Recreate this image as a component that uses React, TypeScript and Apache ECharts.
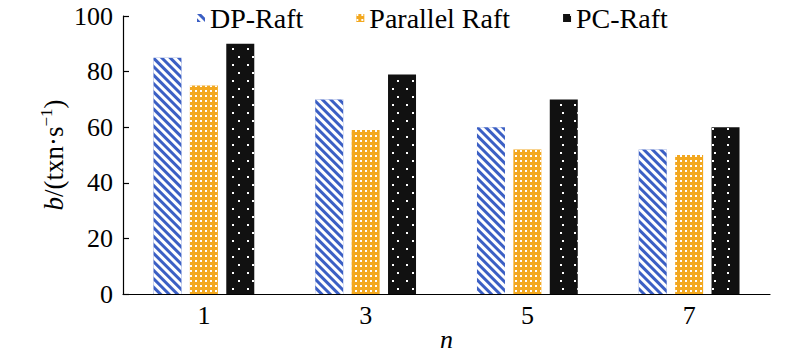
import React, { useEffect, useRef } from "react";
import * as echarts from "echarts";

const categories = ["1", "3", "5", "7"];
const dpRaft = [85, 70, 60, 52];
const parallelRaft = [75, 59, 52, 50];
const pcRaft = [90, 79, 70, 60];
const seriesNames = ["DP-Raft", "Parallel Raft", "PC-Raft"];

const FONT = "'Liberation Serif', 'Times New Roman', serif";

export default function App() {
  const ref = useRef<HTMLDivElement>(null);
  useEffect(() => {
    if (!ref.current) return;
    document.body.style.margin = "0";
    const chart = echarts.init(ref.current, undefined, { renderer: "svg" });
    const dpDecal = {
      color: "#ffffff",
      symbol: "rect",
      symbolSize: 1,
      dashArrayX: [1, 0],
      dashArrayY: [2.2, 2.2],
      rotation: Math.PI / 4,
    };
    const parDecal = {
      color: "#ffffff",
      symbol: "rect",
      symbolSize: 1,
      dashArrayX: [[1.6, 2.6]],
      dashArrayY: [1.6, 2.6],
      rotation: 0,
    };
    const pcDecal = {
      color: "#ffffff",
      symbol: "rect",
      symbolSize: 1,
      dashArrayX: [[1.6, 12], [0, 6.8, 1.6, 5.2]],
      dashArrayY: [1.6, 6],
      rotation: 0,
    };
    chart.setOption({
      animation: false,
      textStyle: { fontFamily: FONT },
      legend: {
        top: -1,
        left: 192,
        itemWidth: 8,
        itemHeight: 8,
        itemGap: 53,
        itemTextGap: 6,
        icon: "rect",
        textStyle: { fontSize: 28, color: "#000", fontFamily: FONT },
        data: seriesNames,
      },
      grid: { left: 123, top: 16, right: 30, bottom: 62, containLabel: false, outerBoundsMode: "none" },
      xAxis: {
        type: "category",
        data: categories,
        axisLine: { lineStyle: { color: "#000", width: 1.2 } },
        axisTick: { show: false },
        axisLabel: { fontSize: 26, color: "#000", margin: 8, fontFamily: FONT },
        name: "n",
        nameLocation: "middle",
        nameGap: 32,
        nameMoveOverlap: false,
        nameTextStyle: { fontSize: 26, color: "#000", fontStyle: "italic", fontFamily: FONT },
      },
      yAxis: {
        type: "value",
        min: 0,
        max: 100,
        interval: 20,
        splitLine: { show: false },
        axisLine: { show: true, lineStyle: { color: "#000", width: 1.2 } },
        axisTick: { show: true, length: 6, inside: true, lineStyle: { color: "#000", width: 1.2 } },
        axisLabel: { fontSize: 26, color: "#000", margin: 10, fontFamily: FONT },
        name: "{i|b}{n|/(txn·s}{sup|−1}{n|)}",
        nameLocation: "middle",
        nameGap: 54,
        nameMoveOverlap: false,
        nameRotate: 90,
        nameTextStyle: {
          color: "#000",
          fontFamily: FONT,
          rich: {
            i: { fontSize: 27, fontStyle: "italic", fontFamily: FONT, color: "#000" },
            n: { fontSize: 27, fontFamily: FONT, color: "#000" },
            sup: { fontSize: 17, fontFamily: FONT, color: "#000", padding: [0, 0, 14, 0] },
          },
        },
      },
      series: [
        {
          name: seriesNames[0],
          type: "bar",
          data: dpRaft,
          barWidth: 28,
          barGap: "30%",
          itemStyle: { color: "#3b5fc4", decal: dpDecal },
        },
        {
          name: seriesNames[1],
          type: "bar",
          data: parallelRaft,
          barWidth: 28,
          barGap: "30%",
          itemStyle: { color: "#f3a81f", decal: parDecal },
        },
        {
          name: seriesNames[2],
          type: "bar",
          data: pcRaft,
          barWidth: 28,
          barGap: "30%",
          itemStyle: { color: "#111111", decal: pcDecal },
        },
      ],
    });
    return () => chart.dispose();
  }, []);
  return <div ref={ref} style={{ width: 800, height: 356 }} />;
}
